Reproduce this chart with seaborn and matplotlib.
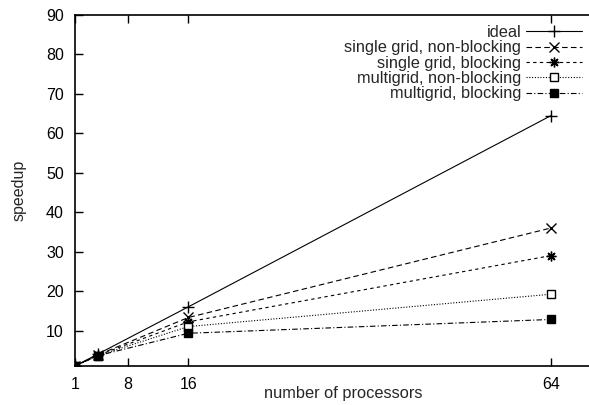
import pandas as pd
import numpy as np
import matplotlib
matplotlib.use("Agg")
import matplotlib.pyplot as plt
import seaborn as sns

procs = [1, 4, 16, 64]
ideal = [1, 4, 16, 64.5]
single_nonblocking = [1, 3.8, 13.3, 36]
single_blocking = [1, 3.7, 12.2, 29]
multi_nonblocking = [1, 3.6, 11.0, 19.2]
multi_blocking = [1, 3.6, 9.3, 12.8]

labels = ["ideal", "single grid, non-blocking", "single grid, blocking",
          "multigrid, non-blocking", "multigrid, blocking"]
series = [ideal, single_nonblocking, single_blocking, multi_nonblocking, multi_blocking]
xticks = [1, 8, 16, 64]
yticks = [10, 20, 30, 40, 50, 60, 70, 80, 90]

sns.set_theme(style="white")
plt.rcParams['font.family'] = ['Liberation Sans', 'DejaVu Sans']
plt.rcParams['xtick.direction'] = 'in'
plt.rcParams['ytick.direction'] = 'in'

styles = [
    dict(marker="+", linestyle="-", markersize=8, mfc="black"),
    dict(marker="x", linestyle=(0, (5, 3)), markersize=7, mfc="black"),
    dict(marker=(8, 2, 0), linestyle=(0, (3, 3)), markersize=7, mfc="black"),
    dict(marker="s", linestyle=(0, (1, 1.5)), markersize=6, mfc="white"),
    dict(marker="s", linestyle=(0, (5, 2, 1, 2)), markersize=6, mfc="black"),
]

fig = plt.figure(figsize=(5.89, 4.05), dpi=100)
# axis runs past the right edge of the picture, as in the scanned original
ax = fig.add_axes([0.1273, 0.0963, 0.911, 0.8667])

for lab, vals, st in zip(labels, series, styles):
    df = pd.DataFrame({"processors": procs, "speedup": vals})
    sns.lineplot(data=df, x="processors", y="speedup", ax=ax, color="black",
                 linewidth=0.8, marker=st["marker"], linestyle=st["linestyle"],
                 markersize=st["markersize"], markerfacecolor=st["mfc"],
                 markeredgecolor="black", markeredgewidth=1.0, label=lab)

ax.set_xlim(1, 72)
ax.set_ylim(1, 90)
ax.set_xticks(xticks)
ax.set_yticks(yticks)
ax.tick_params(axis="both", length=6, width=1, labelsize=11.5, colors="black",
               top=True, bottom=True, left=True, right=False, pad=8)
ax.set_xlabel("number of processors", fontsize=11.8)
ax.set_ylabel("speedup", fontsize=11.5)
ax.xaxis.set_label_coords(0.5, -0.057)
ax.yaxis.set_label_coords(-0.091, 0.5)
for s in ["left", "bottom", "top"]:
    ax.spines[s].set_color("black")
    ax.spines[s].set_linewidth(1.2)
ax.spines["right"].set_visible(False)

leg = ax.legend(loc="upper right", bbox_to_anchor=(0.957, 0.99), markerfirst=False,
                frameon=False, fontsize=11.8, handlelength=3.4, labelspacing=0.02,
                handletextpad=0.3, borderaxespad=0)

fig.savefig("out.png", dpi=100)
